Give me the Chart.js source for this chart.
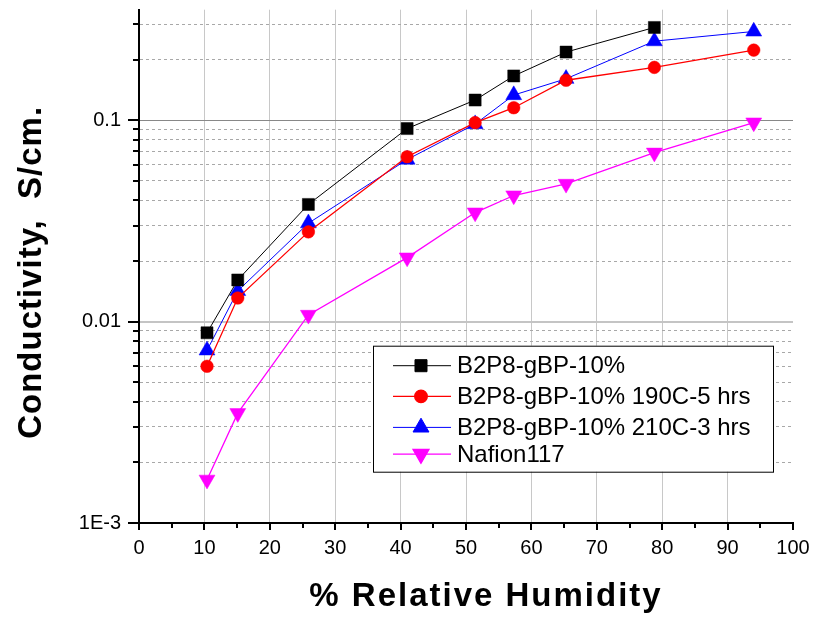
<!DOCTYPE html>
<html>
<head>
<meta charset="utf-8">
<script src="https://cdn.jsdelivr.net/npm/chart.js@4.4.0/dist/chart.umd.min.js"></script>
<style>
  html,body{margin:0;padding:0;background:#fff;}
  #wrap{width:823px;height:621px;}
</style>
</head>
<body>
<div id="wrap"><canvas id="grafico" width="823" height="621"></canvas></div>
<script>
/* ============ Dados ============ */
const umidade = [10.4, 15.1, 25.9, 41.0, 51.4, 57.3, 65.3, 78.8, 94.0];
const b2p8 = [0.0088, 0.0161, 0.0382, 0.0909, 0.126, 0.166, 0.218, 0.289];
const b2p8_190 = [0.0060, 0.0131, 0.0279, 0.0659, 0.0973, 0.1154, 0.158, 0.183, 0.223];
const b2p8_210 = [0.0072, 0.0142, 0.0308, 0.0638, 0.0957, 0.1334, 0.1607, 0.247, 0.276];
const nafion = [0.00164, 0.00351, 0.0108, 0.0208, 0.0348, 0.0423, 0.0483, 0.0690, 0.0974];

const nomes = ["B2P8-gBP-10%", "B2P8-gBP-10% 190C-5 hrs", "B2P8-gBP-10% 210C-3 hrs", "Nafion117"];

const yDecadas = [0.001, 0.01, 0.1];
const yRotulos = ["1E-3", "0.01", "0.1"];
const yMin = 0.001, yMax = 0.354;
const xMin = 0, xMax = 100;

const tituloX = "% Relative Humidity";
const tituloY = "Conductivity,  S/cm.";

/* ============ Helpers ============ */
const pontos = (vals) => vals.map((v, i) => ({x: umidade[i], y: v}));

// ticks do eixo log: 1..9 x cada década, até o máximo
const yTicks = yDecadas.flatMap(d => [1,2,3,4,5,6,7,8,9].map(k => +(k*d).toPrecision(3)))
  .filter(v => v <= yMax);
const ehDecada = (v) => yDecadas.some(d => Math.abs(d - v) < d*1e-6);

/* ============ Plugin: marcas dos eixos, títulos e legenda ============ */
const extras = {
  id: "extras",
  afterDraw(chart){
    const ctx = chart.ctx, ca = chart.chartArea;
    const sx = chart.scales.x, sy = chart.scales.y;
    ctx.save();

    // marcas (ticks) - maiores nas décadas / dezenas
    ctx.strokeStyle = "#000"; ctx.lineWidth = 2;
    ctx.beginPath();
    sy.ticks.forEach(t => {
      const py = Math.round(sy.getPixelForValue(t.value));
      const len = ehDecada(t.value) ? 11 : 6;
      ctx.moveTo(ca.left, py); ctx.lineTo(ca.left - len, py);
    });
    sx.ticks.forEach(t => {
      const px = Math.round(sx.getPixelForValue(t.value));
      const len = t.value % 10 === 0 ? 7 : 5;
      ctx.moveTo(px, ca.bottom); ctx.lineTo(px, ca.bottom + len);
    });
    ctx.stroke();

    // títulos dos eixos
    ctx.fillStyle = "#000";
    ctx.textAlign = "center"; ctx.textBaseline = "middle";
    ctx.font = "bold 33px 'Liberation Sans', Arial, sans-serif";
    if ("letterSpacing" in ctx) ctx.letterSpacing = "2px";
    ctx.fillText(tituloX, ca.left + 347, 597);
    if ("letterSpacing" in ctx) ctx.letterSpacing = "1px";
    ctx.save();
    ctx.translate(32, (ca.top + ca.bottom)/2 + 6);
    ctx.rotate(-Math.PI/2);
    ctx.fillText(tituloY, 0, 0);
    ctx.restore();
    if ("letterSpacing" in ctx) ctx.letterSpacing = "0px";

    // legenda
    const lx = ca.left + 234, ly = ca.top + 336, lw = 400, lh = 126;
    ctx.fillStyle = "#fff";
    ctx.fillRect(lx, ly, lw, lh);
    ctx.strokeStyle = "#000"; ctx.lineWidth = 1;
    ctx.strokeRect(lx + 0.5, ly + 0.5, lw, lh);
    const linhas = [20, 50.7, 81.7, 108.4];
    ctx.font = "24px 'Liberation Sans', Arial, sans-serif";
    ctx.textAlign = "left";
    chart.data.datasets.forEach((ds, i) => {
      const yy = ly + linhas[i];
      ctx.strokeStyle = ds.borderColor; ctx.lineWidth = ds.borderWidth;
      ctx.beginPath(); ctx.moveTo(lx + 20, yy); ctx.lineTo(lx + 78, yy); ctx.stroke();
      ctx.fillStyle = ds.pointBackgroundColor;
      ctx.strokeStyle = ds.pointBorderColor;
      Chart.helpers.drawPoint(ctx, {
        pointStyle: ds.pointStyle, radius: ds.pointRadius,
        rotation: ds.pointRotation || 0, borderWidth: ds.pointBorderWidth
      }, lx + 48, yy);
      ctx.fillStyle = "#000";
      ctx.fillText(ds.label, lx + 84, yy + 1);
    });
    ctx.restore();
  }
};

/* ============ Gráfico ============ */
function serie(label, vals, cor, estilo, raio, larg, rot){
  return {
    label, data: pontos(vals), showLine: true,
    borderColor: cor, backgroundColor: cor, borderWidth: larg,
    pointStyle: estilo, pointRadius: raio, pointHoverRadius: raio,
    pointRotation: rot || 0, pointBackgroundColor: cor, pointBorderColor: cor,
    pointBorderWidth: 0.5, tension: 0
  };
}

new Chart(document.getElementById("grafico"), {
  type: "scatter",
  data: {
    datasets: [
      serie(nomes[0], b2p8, "#000000", "rect", 8.5, 1),
      serie(nomes[1], b2p8_190, "#ff0000", "circle", 6.3, 1.3),
      serie(nomes[2], b2p8_210, "#0000ff", "triangle", 9.2, 1),
      serie(nomes[3], nafion, "#ff00ff", "triangle", 9.2, 1.3, 180)
    ]
  },
  options: {
    responsive: false,
    animation: false,
    devicePixelRatio: 1,
    layout: { padding: { top: 7, right: 30, left: 0, bottom: 0 } },
    plugins: { legend: { display: false }, tooltip: { enabled: false } },
    scales: {
      x: {
        type: "linear", min: xMin, max: xMax,
        afterFit: (s) => { s.height = 98; s.paddingLeft = 0; s.paddingRight = 0; },
        ticks: {
          stepSize: 5, autoSkip: false, maxRotation: 0, padding: 13, color: "#000",
          font: { family: "'Liberation Sans Narrow', 'Liberation Sans', Arial", size: 20 },
          callback: (v) => v % 10 === 0 ? String(v) : ""
        },
        grid: {
          drawTicks: false,
          color: (c) => (c.tick && c.tick.value % 10 === 0 && c.tick.value > 0 && c.tick.value < 100) ? "#c8c8c8" : "rgba(0,0,0,0)",
          lineWidth: 1
        },
        border: { display: true, color: "#000", width: 2 }
      },
      y: {
        type: "logarithmic", min: yMin, max: yMax,
        afterFit: (s) => { s.width = 139; s.paddingTop = 0; s.paddingBottom = 0; },
        afterBuildTicks: (s) => { s.ticks = yTicks.map(v => ({value: v})); },
        ticks: {
          autoSkip: false, padding: 18, color: "#000",
          font: { family: "'Liberation Sans', Arial", size: 20 },
          callback: (v) => {
            const i = yDecadas.findIndex(d => Math.abs(d - v) < d*1e-6);
            return i >= 0 ? yRotulos[i] : "";
          }
        },
        grid: {
          drawTicks: false,
          color: (c) => {
            if (!c.tick) return "rgba(0,0,0,0)";
            const v = c.tick.value;
            if (Math.abs(v - 0.001) < 1e-9) return "rgba(0,0,0,0)";
            if (Math.abs(v - 0.1) < 1e-9) return "#888888";
            if (Math.abs(v - 0.01) < 1e-9) return "#c4c4c4";
            return "#a8a8a8";
          },
          lineWidth: (c) => (c.tick && Math.abs(c.tick.value - 0.01) < 1e-9) ? 2 : 1
        },
        border: {
          display: true, color: "#000", width: 2,
          dash: (c) => (c.tick && !ehDecada(c.tick.value)) ? [3, 3] : []
        }
      }
    }
  },
  plugins: [extras]
});
</script>
</body>
</html>
